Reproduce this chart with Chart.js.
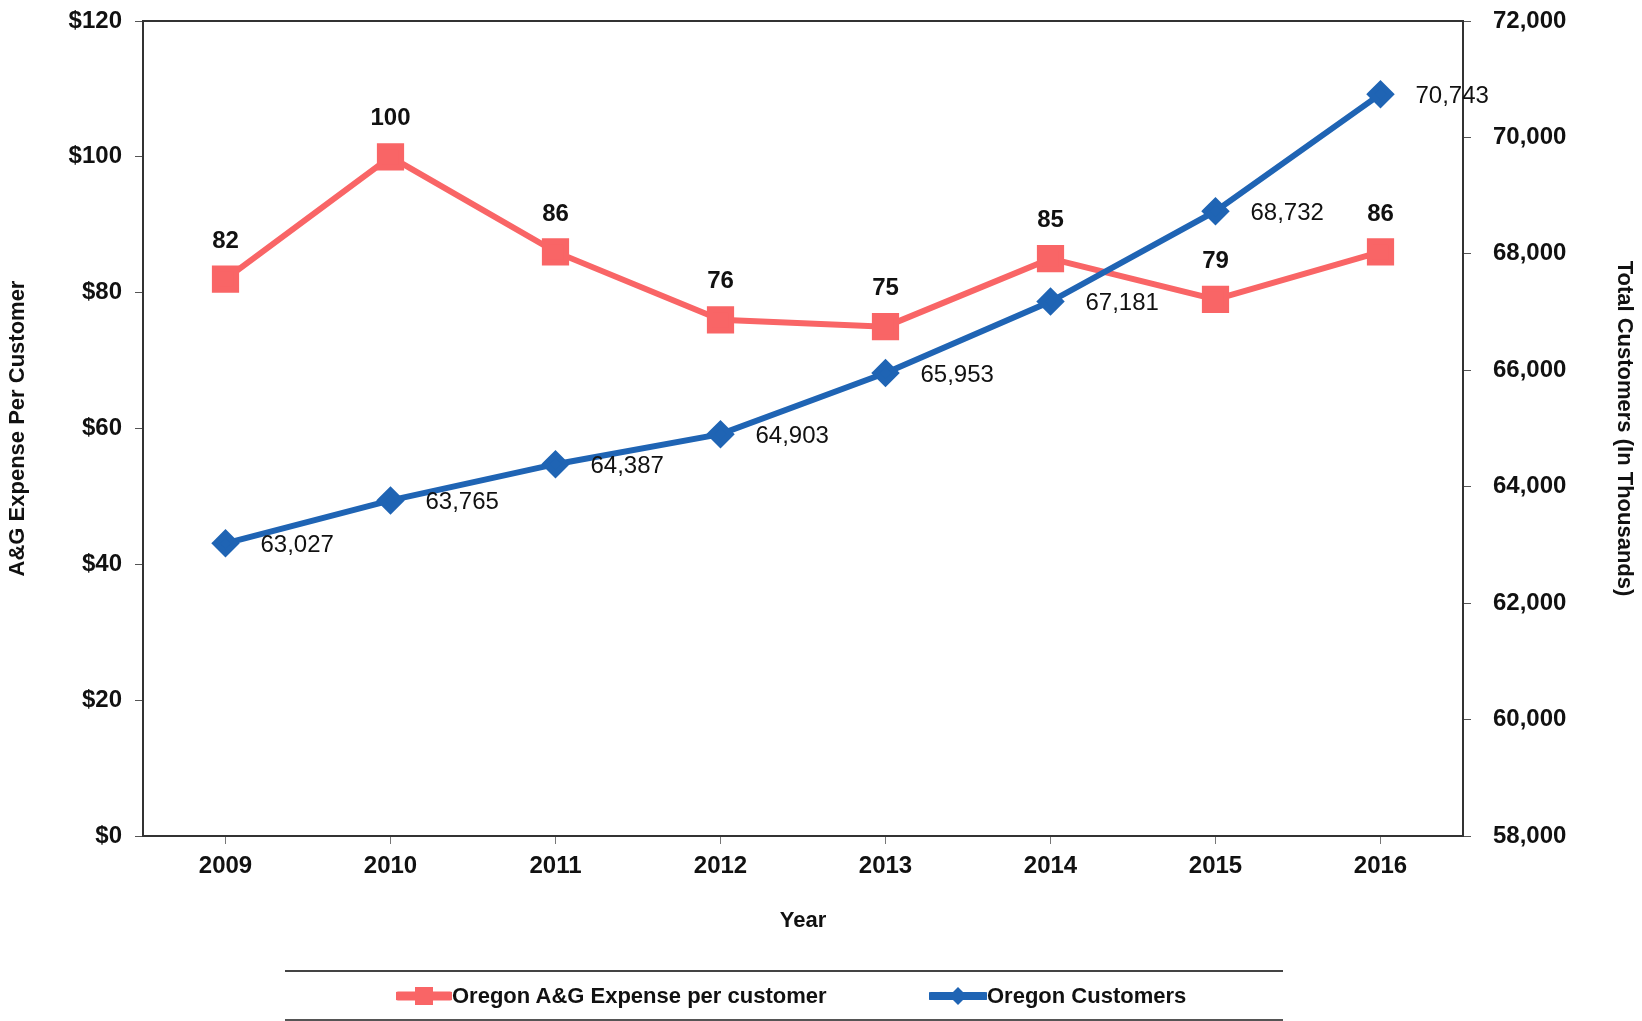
<!DOCTYPE html>
<html>
<head>
<meta charset="utf-8">
<script src="https://cdn.jsdelivr.net/npm/chart.js@4.4.1/dist/chart.umd.min.js"></script>
<style>
  body { margin: 0; background: #fff; font-family: "Liberation Sans", Arial, sans-serif; }
  #wrap { position: relative; width: 1642px; height: 1021px; }
  #legend {
    position: absolute; left: 285px; top: 970px; width: 998px; height: 47px;
    border-top: 2px solid #444; border-bottom: 2px solid #555;
  }
  .item { position: absolute; top: 0; height: 47px; display: flex; align-items: center;
    font-weight: bold; font-size: 22px; color: #111; }
</style>
</head>
<body>
<div id="wrap">
  <canvas id="grafico" width="1642" height="1021"></canvas>
  <div id="legend">
    <div class="item" style="left:111px">
      <svg width="56" height="24"><line x1="2" y1="12" x2="54" y2="12" stroke="#F96566" stroke-width="9" stroke-linecap="round"/><rect x="19" y="3" width="18" height="18" fill="#F96566"/></svg>Oregon A&amp;G Expense per customer
    </div>
    <div class="item" style="left:644px">
      <svg width="58" height="24"><line x1="2" y1="12" x2="56" y2="12" stroke="#1F64B4" stroke-width="8" stroke-linecap="round"/><polygon points="29,3 38,12 29,21 20,12" fill="#1F64B4"/></svg>Oregon Customers
    </div>
  </div>
</div>
<script>
const years = ['2009', '2010', '2011', '2012', '2013', '2014', '2015', '2016'];
const expensePerCustomer = [82, 100, 86, 76, 75, 85, 79, 86];
const customers = [63027, 63765, 64387, 64903, 65953, 67181, 68732, 70743];

const rosa = '#F96566';
const azul = '#1F64B4';
const fuente = "'Liberation Sans', Arial, sans-serif";

// etiquetas de valores junto a cada punto
const etiquetas = {
  id: 'etiquetas',
  afterDatasetsDraw(chart) {
    const ctx = chart.ctx;
    ctx.save();
    ctx.fillStyle = '#111';
    chart.data.datasets.forEach(function(ds, i) {
      const meta = chart.getDatasetMeta(i);
      meta.data.forEach(function(p, j) {
        const v = ds.data[j];
        if (ds.yAxisID === 'y') {
          ctx.font = 'bold 24px ' + fuente;
          ctx.textAlign = 'center';
          ctx.textBaseline = 'middle';
          ctx.fillText(String(v), p.x, p.y - 38);
        } else {
          ctx.font = '24px ' + fuente;
          ctx.textAlign = 'left';
          ctx.textBaseline = 'middle';
          ctx.fillText(v.toLocaleString('en-US'), p.x + 35, p.y + 2);
        }
      });
    });
    ctx.restore();
  }
};

// marco alrededor del area del grafico
const marco = {
  id: 'marco',
  beforeDatasetsDraw(chart) {
    const a = chart.chartArea;
    const ctx = chart.ctx;
    ctx.save();
    ctx.strokeStyle = '#333';
    ctx.lineWidth = 2;
    ctx.strokeRect(a.left, a.top, a.right - a.left, a.bottom - a.top);
    ctx.restore();
  }
};

function ajustarEjeY(ancho) {
  return function(s) {
    s.width = ancho;
    s.paddingTop = 0;
    s.paddingBottom = 0;
  };
}

Chart.defaults.font.family = fuente;
Chart.defaults.color = '#111';

new Chart(document.getElementById('grafico').getContext('2d'), {
  type: 'line',
  data: {
    labels: years,
    datasets: [
      {
        label: 'Oregon A&G Expense per customer',
        data: expensePerCustomer,
        yAxisID: 'y',
        borderColor: rosa,
        backgroundColor: rosa,
        borderWidth: 6,
        pointStyle: 'rect',
        pointRadius: 15,
        pointHoverRadius: 15,
        order: 2
      },
      {
        label: 'Oregon Customers',
        data: customers,
        yAxisID: 'y2',
        borderColor: azul,
        backgroundColor: azul,
        borderWidth: 6,
        pointStyle: 'rectRot',
        pointRadius: 10,
        pointHoverRadius: 10,
        order: 1
      }
    ]
  },
  options: {
    responsive: false,
    animation: false,
    layout: { padding: { top: 14, right: 0, bottom: 73, left: 0 } },
    plugins: {
      legend: { display: false },
      tooltip: { enabled: false }
    },
    scales: {
      x: {
        offset: true,
        afterFit: function(s) { s.height = 112; },
        grid: { drawOnChartArea: false, tickLength: 8, color: '#777' },
        border: { color: '#333', width: 2 },
        ticks: { padding: 8, font: { size: 24, weight: 'bold' }, color: '#111' },
        title: { display: true, text: 'Year', font: { size: 22, weight: 'bold' }, padding: { top: 0, bottom: 14 }, color: '#111' }
      },
      y: {
        position: 'left',
        min: 0,
        max: 120,
        afterFit: ajustarEjeY(143),
        grid: { drawOnChartArea: false, tickLength: 8, color: '#555' },
        border: { color: '#333', width: 2 },
        ticks: {
          stepSize: 20,
          padding: 13,
          font: { size: 24, weight: 'bold' },
          color: '#111',
          callback: function(v) { return '$' + v; }
        },
        title: { display: true, text: 'A&G Expense Per Customer', font: { size: 22, weight: 'bold' }, padding: { top: 5, bottom: 0 }, color: '#111' }
      },
      y2: {
        position: 'right',
        min: 58000,
        max: 72000,
        afterFit: ajustarEjeY(179),
        grid: { drawOnChartArea: false, tickLength: 8, color: '#555' },
        border: { color: '#333', width: 2 },
        ticks: {
          stepSize: 2000,
          padding: 22,
          font: { size: 24, weight: 'bold' },
          color: '#111',
          callback: function(v) { return v.toLocaleString('en-US'); }
        },
        title: { display: true, text: 'Total Customers (In Thousands)', font: { size: 22, weight: 'bold' }, padding: { top: 5, bottom: 0 }, color: '#111' }
      }
    }
  },
  plugins: [marco, etiquetas]
});
</script>
</body>
</html>
